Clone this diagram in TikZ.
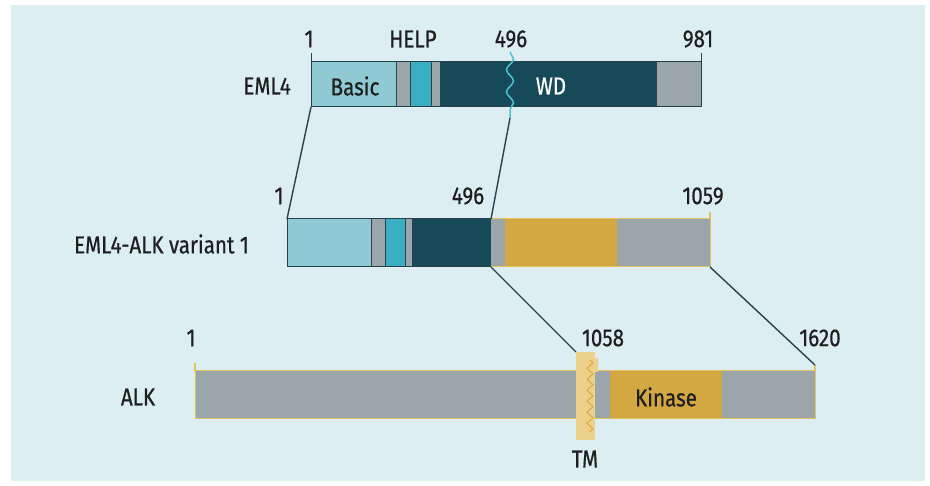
\documentclass[tikz,border=0pt]{standalone}
\usepackage{fontspec}
\setmainfont{Fira Sans}[FakeStretch=0.84,FakeBold=0.6]
\usetikzlibrary{decorations.pathmorphing}
\definecolor{panel}{HTML}{DCEEF2}
\definecolor{lightc}{HTML}{8FC9D3}
\definecolor{tealc}{HTML}{3AAFC4}
\definecolor{grayc}{HTML}{9AA6A9}
\definecolor{darkc}{HTML}{164A58}
\definecolor{goldc}{HTML}{D3A843}
\definecolor{goldline}{HTML}{E2C35E}
\definecolor{tmc}{HTML}{EDD08A}
\definecolor{tmline}{HTML}{DDAE4C}
\definecolor{wavec}{HTML}{4FC0D4}
\definecolor{linec}{HTML}{26434C}
\definecolor{txt}{HTML}{1E1E1E}
\tikzset{
  seg/.style={draw=linec, line width=1pt, inner sep=0pt, outer sep=0pt, anchor=north west},
  aseg/.style={inner sep=0pt, outer sep=0pt, anchor=north west},
  lbl/.style={text=txt, font=\fontsize{24.5}{28}\selectfont, inner sep=0pt},
  conn/.style={draw=linec, line width=1.4pt},
  goldtick/.style={draw=goldline, line width=1.3pt},
}
\begin{document}
\begin{tikzpicture}[x=1pt,y=-1pt]
\useasboundingbox (0,0) rectangle (930,486);
\fill[white] (0,0) rectangle (930,486);
\fill[panel] (11,5) rectangle (925,481);

% ---------- EML4 ----------
\node[seg, fill=lightc, minimum width=85pt, minimum height=45pt] (e1) at (311,62) {};
\node[seg, fill=grayc, minimum width=14pt, minimum height=45pt] (e2) at (396,62) {};
\node[seg, fill=tealc, minimum width=21pt, minimum height=45pt] (e3) at (410,62) {};
\node[seg, fill=grayc, minimum width=9pt, minimum height=45pt] (e4) at (431,62) {};
\node[seg, fill=darkc, minimum width=216pt, minimum height=45pt] (e5) at (440,62) {};
\node[seg, fill=grayc, minimum width=45pt, minimum height=45pt] (e6) at (656,62) {};
\coordinate (e1t) at (311,53);
\coordinate (e6t) at (701,53);
\draw[conn, line width=1pt] (e1t) -- (e1.north west);
\draw[conn, line width=1pt] (e6t) -- (e6.north east);
\node[lbl, text=txt] (basic) at (355,86) {Basic};
\node[lbl, text=white] (wd) at (551,86) {WD};
\node[lbl] (n1a) at (309,39) {1};
\node[lbl] (help) at (413,39) {HELP};
\node[lbl] (n496a) at (511,39) {496};
\node[lbl] (n981) at (698,39) {981};
\node[lbl, anchor=east] (eml) at (291,86) {EML4};
\coordinate (wtop) at (510,52);
\coordinate (wbot) at (510,118);

% ---------- EML4-ALK ----------
\node[seg, fill=lightc, minimum width=84pt, minimum height=48pt] (f1) at (287,219) {};
\node[seg, fill=grayc, minimum width=14pt, minimum height=48pt] (f2) at (371,219) {};
\node[seg, fill=tealc, minimum width=20pt, minimum height=48pt] (f3) at (385,219) {};
\node[seg, fill=grayc, minimum width=7pt, minimum height=48pt] (f4) at (405,219) {};
\node[seg, fill=darkc, minimum width=79pt, minimum height=48pt] (f5) at (412,219) {};
\node[aseg, fill=grayc, minimum width=14pt, minimum height=48pt] (f6) at (491,219) {};
\node[aseg, fill=goldc, minimum width=112pt, minimum height=48pt] (f7) at (505,219) {};
\node[aseg, fill=grayc, minimum width=93pt, minimum height=48pt] (f8) at (617,219) {};
\draw[goldtick, line width=1pt] (f6.north west) -- (f8.north east) -- (f8.south east) -- (f6.south west);
\coordinate (f8t) at (710,212);
\draw[goldtick] (f8t) -- (f8.north east);
\node[lbl] (n1b) at (279,196) {1};
\node[lbl] (n496b) at (468,196) {496};
\node[lbl] (n1059) at (703,196) {1059};
\node[lbl, anchor=east] (fus) at (249,244) {EML4-ALK variant 1};

% ---------- ALK ----------
\node[aseg, fill=grayc, minimum width=381pt, minimum height=48pt] (a1) at (195,371) {};
\node[aseg, fill=grayc, minimum width=15pt, minimum height=48pt] (a2) at (595,371) {};
\node[aseg, fill=goldc, minimum width=112pt, minimum height=48pt] (a3) at (610,371) {};
\node[aseg, fill=grayc, minimum width=93pt, minimum height=48pt] (a4) at (722,371) {};
\draw[goldtick, line width=1pt] (a1.north west) -- (a4.north east) -- (a4.south east) -- (a1.south west) -- cycle;
\coordinate (a1t) at (195,363);
\coordinate (a4t) at (815,365);
\draw[goldtick] (a1t) -- (a1.north west);
\draw[goldtick] (a4t) -- (a4.north east);
\node[aseg, fill=tmc, minimum width=19pt, minimum height=88pt] (tm) at (576,352) {};
\fill[tmc] (595,358) rectangle (598,372);
\draw[draw=tmline, line width=1.2pt, decorate, decoration={zigzag, segment length=11pt, amplitude=3pt}] (590,360) -- (590,432);
\node[lbl] (kin) at (666,397) {Kinase};
\node[lbl] (tmlbl) at (585,459) {TM};
\node[lbl] (n1c) at (191,338) {1};
\node[lbl] (n1058) at (603,338) {1058};
\node[lbl] (n1620) at (820,338) {1620};
\node[lbl] (alk) at (138,397) {ALK};

% ---------- connectors ----------
\draw[conn] (e1.south west) -- (f1.north west);
\draw[conn] (wbot) -- (f5.north east);
\draw[conn] (f5.south east) -- (tm.north west);
\draw[conn] (f8.south east) -- (a4t);
\draw[draw=wavec, line width=1.5pt, decorate, decoration={snake, segment length=22pt, amplitude=3.5pt}] (wtop) -- (wbot);
\end{tikzpicture}
\end{document}
